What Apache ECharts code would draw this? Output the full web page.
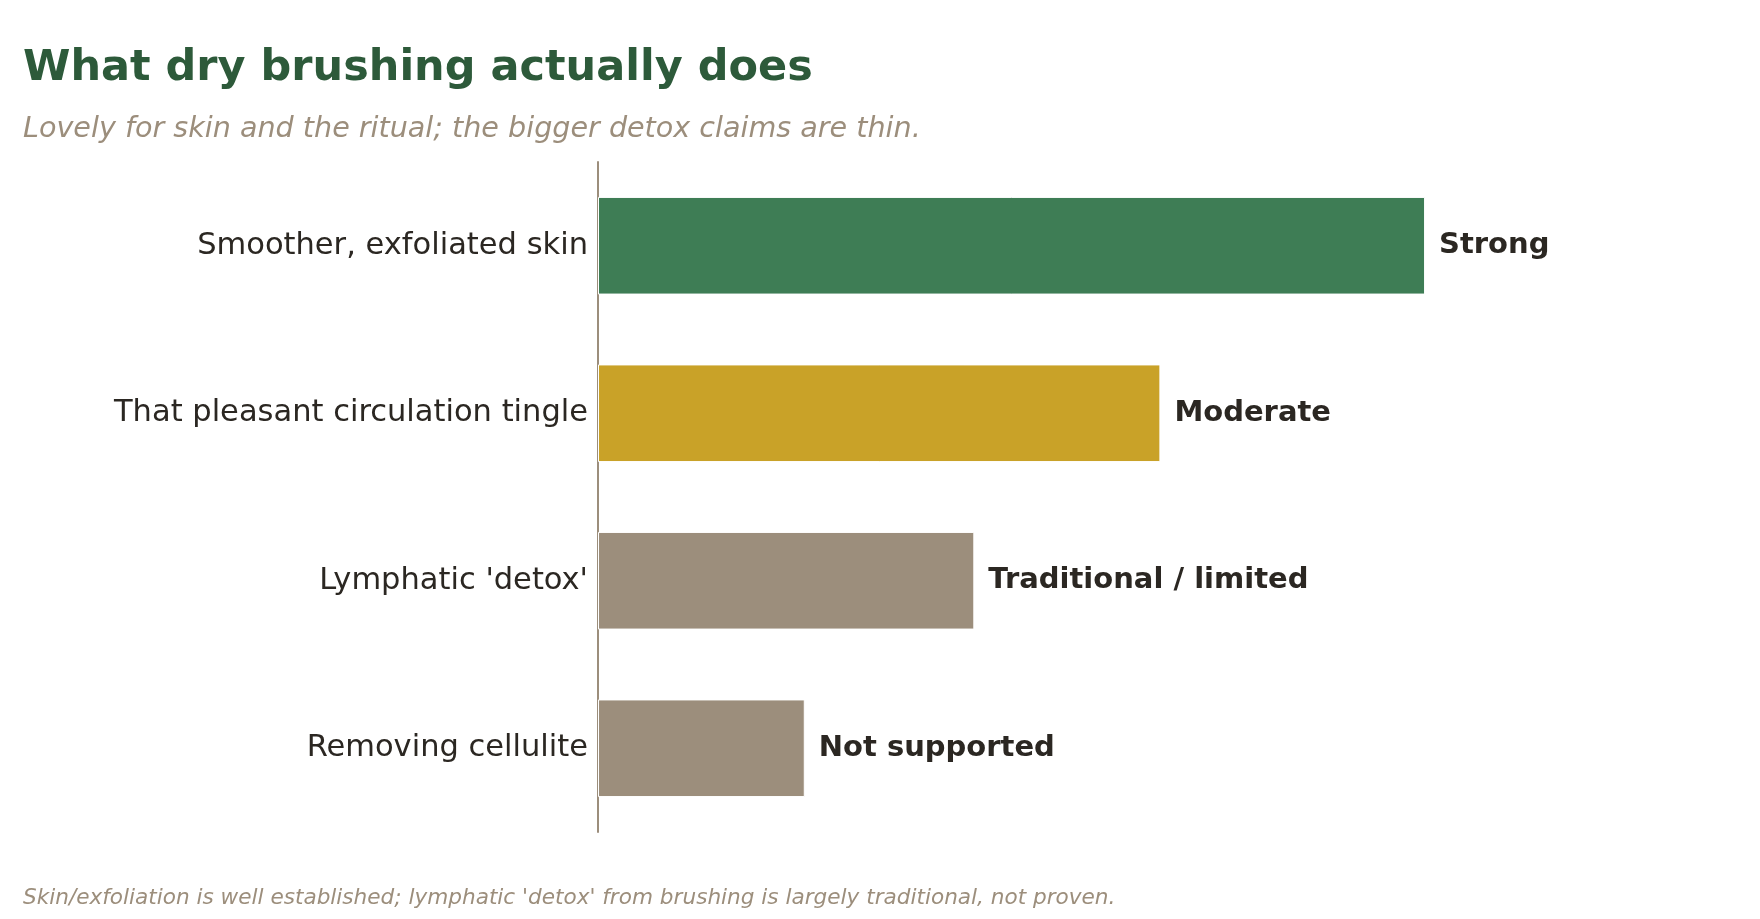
<!DOCTYPE html>
<html><head><meta charset="utf-8">
<script src="https://cdn.jsdelivr.net/npm/echarts@6/dist/echarts.min.js"></script>
<style>html,body{margin:0;padding:0;background:#fff}#c{width:1760px;height:919px}</style>
</head><body><div id="c"></div>
<script>
const categories = ["Smoother, exfoliated skin", "That pleasant circulation tingle", "Lymphatic 'detox'", "Removing cellulite"];
const values = [100, 68, 45.5, 25];
const evidenceLabels = ["Strong", "Moderate", "Traditional / limited", "Not supported"];
const barColors = ["#3e7d55", "#c9a228", "#9c8e7c", "#9c8e7c"];

const font = "DejaVu Sans";
const chart = echarts.init(document.getElementById('c'));
chart.setOption({
  backgroundColor: '#fff',
  animation: false,
  title: [
    {text: 'What dry brushing actually does', left: 18, top: 42,
     textStyle: {fontFamily: font, fontSize: 43, fontWeight: 'bold', color: '#2d5a3a'}},
    {text: 'Lovely for skin and the ritual; the bigger detox claims are thin.', left: 18, top: 110,
     textStyle: {fontFamily: font, fontSize: 28.6, fontStyle: 'italic', fontWeight: 'normal', color: '#9c8e7c'}},
    {text: "Skin/exfoliation is well established; lymphatic 'detox' from brushing is largely traditional, not proven.", left: 18, top: 882,
     textStyle: {fontFamily: font, fontSize: 21.6, fontStyle: 'italic', fontWeight: 'normal', color: '#9c8e7c'}}
  ],
  grid: {left: 598, right: 172, top: 162, bottom: 87, containLabel: false},
  xAxis: {type: 'value', min: 0, max: 119.7, show: false},
  yAxis: {type: 'category', data: categories, inverse: true,
    axisLine: {show: true, lineStyle: {color: '#9c8e7c', width: 2}},
    axisTick: {show: false},
    axisLabel: {fontFamily: font, fontSize: 30.5, color: '#2b2722', margin: 10, padding: [6, 0, 0, 0]}},
  series: [{
    type: 'bar', barWidth: '58.3%',
    data: values.map((v, i) => ({value: v, itemStyle: {color: barColors[i]}})),
    itemStyle: {borderColor: '#ffffff', borderWidth: 1},
    label: {show: true, position: 'right', distance: 14, padding: [2, 0, 0, 0],
      formatter: p => evidenceLabels[p.dataIndex],
      fontFamily: font, fontSize: 29, fontWeight: 'bold', color: '#2b2722'}
  }]
});
</script></body></html>
